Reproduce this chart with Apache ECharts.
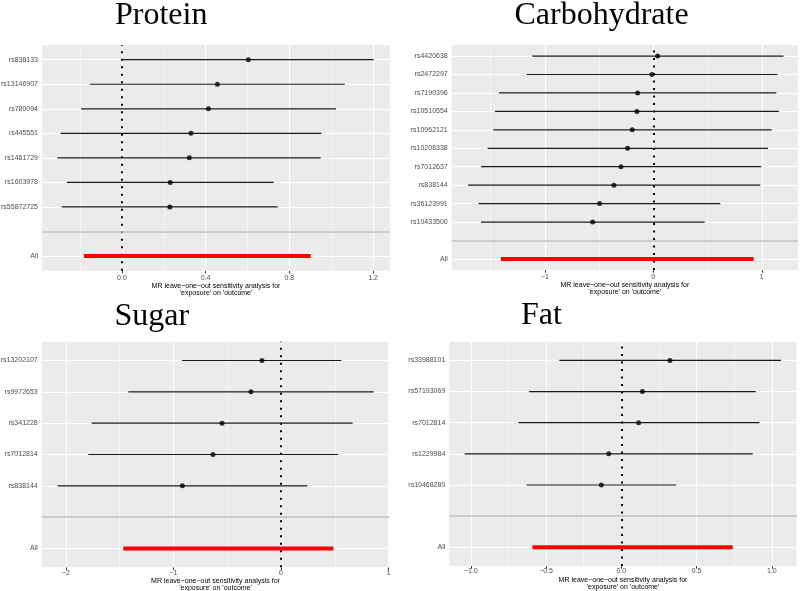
<!DOCTYPE html>
<html><head><meta charset="utf-8">
<script src="https://cdn.jsdelivr.net/npm/echarts@6/dist/echarts.min.js"></script>
<style>html,body{margin:0;padding:0;background:#fff}#c{width:800px;height:591px}</style>
</head><body><div id="c"></div>
<script>
// ---------- DATA ----------
const proteinSnps = ['rs838133','rs13146907','rs780094','rs445551','rs1461729','rs1603978','rs55872725'];
const proteinB  = [0.604, 0.456, 0.413, 0.330, 0.322, 0.231, 0.229];
const proteinLo = [0.004, -0.153, -0.195, -0.293, -0.308, -0.263, -0.288];
const proteinUp = [1.203, 1.065, 1.023, 0.953, 0.950, 0.725, 0.744];
const proteinAll = [-0.182, 0.902];
const proteinTicks = [0, 0.4, 0.8, 1.2];
const proteinTickLabels = ['0.0', '0.4', '0.8', '1.2'];
const proteinMinor = [-0.2, 0.2, 0.6, 1.0];

const carbSnps = ['rs4420638','rs2472297','rs7190396','rs10510554','rs10962121','rs10206338','rs7012637','rs838144','rs36123991','rs10433500'];
const carbB  = [0.040, -0.012, -0.144, -0.151, -0.194, -0.237, -0.298, -0.363, -0.495, -0.559];
const carbLo = [-1.115, -1.167, -1.422, -1.459, -1.475, -1.527, -1.588, -1.708, -1.610, -1.588];
const carbUp = [1.201, 1.146, 1.134, 1.158, 1.091, 1.057, 0.995, 0.986, 0.618, 0.473];
const carbAll = [-1.404, 0.925];
const carbTicks = [-1, 0, 1];
const carbTickLabels = ['\u22121', '0', '1'];
const carbMinor = [-1.5, -0.5, 0.5];

const sugarSnps = ['rs13202107','rs9972653','rs341228','rs7012814','rs838144'];
const sugarB  = [-0.177, -0.279, -0.548, -0.632, -0.917];
const sugarLo = [-0.920, -1.419, -1.760, -1.791, -2.076];
const sugarUp = [0.561, 0.861, 0.666, 0.530, 0.245];
const sugarAll = [-1.466, 0.487];
const sugarTicks = [-2, -1, 0, 1];
const sugarTickLabels = ['\u22122', '\u22121', '0', '1'];
const sugarMinor = [-1.5, -0.5, 0.5];

const fatSnps = ['rs33988101','rs57193069','rs7012814','rs1229984','rs10468280'];
const fatB  = [0.323, 0.140, 0.115, -0.084, -0.133];
const fatLo = [-0.412, -0.613, -0.684, -1.041, -0.629];
const fatUp = [1.061, 0.893, 0.917, 0.873, 0.365];
const fatAll = [-0.591, 0.740];
const fatTicks = [-1, -0.5, 0, 0.5, 1];
const fatTickLabels = ['\u22121.0', '\u22120.5', '0.0', '0.5', '1.0'];
const fatMinor = [-0.75, -0.25, 0.25, 0.75];

const axisTitle = "MR leave\u2212one\u2212out sensitivity analysis for\n'exposure' on 'outcome'";

// ---------- LAYOUT ----------
const panels = [
  {title:'Protein', snps:proteinSnps, b:proteinB, lo:proteinLo, up:proteinUp, all:proteinAll,
   ticks:proteinTicks, tickLabels:proteinTickLabels, minor:proteinMinor,
   grid:{left:42, top:45, width:348, height:225.7}, xMin:-0.382, xMax:1.281,
   titlePos:{left:115, top:-0.5}, labelMargin:3.5, nameGap:11.2},
  {title:'Carbohydrate', snps:carbSnps, b:carbB, lo:carbLo, up:carbUp, all:carbAll,
   ticks:carbTicks, tickLabels:carbTickLabels, minor:carbMinor,
   grid:{left:451.7, top:45, width:346.3, height:225}, xMin:-1.858, xMax:1.334,
   titlePos:{left:514.5, top:-0.5}, labelMargin:3.5, nameGap:11.2},
  {title:'Sugar', snps:sugarSnps, b:sugarB, lo:sugarLo, up:sugarUp, all:sugarAll,
   ticks:sugarTicks, tickLabels:sugarTickLabels, minor:sugarMinor,
   grid:{left:41.7, top:341.7, width:347.6, height:225.6}, xMin:-2.224, xMax:1.0065,
   titlePos:{left:114.5, top:301}, labelMargin:2, nameGap:8.5},
  {title:'Fat', snps:fatSnps, b:fatB, lo:fatLo, up:fatUp, all:fatAll,
   ticks:fatTicks, tickLabels:fatTickLabels, minor:fatMinor,
   grid:{left:449.3, top:341.7, width:347.4, height:224.3}, xMin:-1.143, xMax:1.165,
   titlePos:{left:521, top:300}, labelMargin:2, nameGap:9}
];

const SANS = 'Liberation Sans, Arial, sans-serif';
const option = {animation:false, backgroundColor:'#fff', title:[], grid:[], xAxis:[], yAxis:[], series:[]};

function markSeries(p, z, lines){
  return {type:'line', xAxisIndex:p, yAxisIndex:p, data:[], z:z, silent:true,
    markLine:{z:z, silent:true, symbol:['none','none'], animation:false, label:{show:false},
      emphasis:{disabled:true}, data:lines}};
}

panels.forEach((P, p) => {
  const n = P.snps.length;
  const yVals = [];
  for (let v = 1; v <= n + 2; v++) yVals.push(v);
  const yLabel = v => v === 1 ? 'All' : (v === 2 ? '' : P.snps[n + 2 - v]);
  const yOf = i => n + 2 - i;

  option.title.push({text:P.title, left:P.titlePos.left, top:P.titlePos.top, padding:0,
    textStyle:{fontFamily:'Liberation Serif, Times New Roman, serif', fontSize:32, fontWeight:'normal', color:'#000'}});
  option.grid.push(Object.assign({show:true, backgroundColor:'#EBEBEB', borderWidth:0, containLabel:false, outerBoundsMode:'none'}, P.grid));

  option.xAxis.push({gridIndex:p, type:'value', min:P.xMin, max:P.xMax,
    axisLine:{show:false}, splitLine:{show:false},
    axisTick:{show:true, customValues:P.ticks, length:2.7, lineStyle:{color:'#333', width:1}},
    axisLabel:{customValues:P.ticks, margin:P.labelMargin, fontSize:7, fontFamily:SANS, color:'#4D4D4D',
      formatter: v => { const k = P.ticks.findIndex(t => Math.abs(t - v) < 1e-9); return k >= 0 ? P.tickLabels[k] : ''; }},
    name:axisTitle, nameLocation:'middle', nameGap:P.nameGap,
    nameTextStyle:{fontSize:7, lineHeight:7.4, fontFamily:SANS, color:'#000', align:'center'}});

  option.yAxis.push({gridIndex:p, type:'value', min:0.4, max:n + 2.6,
    axisLine:{show:false}, splitLine:{show:false},
    axisTick:{show:true, customValues:yVals, length:2.7, lineStyle:{color:'#333', width:1}},
    axisLabel:{customValues:yVals, margin:4, fontSize:7, fontFamily:SANS, color:'#4D4D4D',
      formatter: v => yLabel(Math.round(v))}});

  // background grid lines (white)
  const gl = [];
  P.minor.forEach(v => gl.push({xAxis:v, lineStyle:{color:'#FFFFFF', width:0.6, type:'solid'}}));
  P.ticks.forEach(v => gl.push({xAxis:v, lineStyle:{color:'#FFFFFF', width:1.2, type:'solid'}}));
  yVals.forEach(v => gl.push({yAxis:v, lineStyle:{color:'#FFFFFF', width:1.2, type:'solid'}}));
  option.series.push(markSeries(p, 1, gl));

  // dotted vertical line at zero
  option.series.push(markSeries(p, 2, [{xAxis:0, lineStyle:{color:'#000', width:2, type:[2, 5.5]}}]));

  // error bars
  const bars = P.snps.map((s, i) => [P.lo[i], P.up[i], yOf(i)]);
  option.series.push({type:'custom', xAxisIndex:p, yAxisIndex:p, z:3, silent:true,
    data:bars, encode:{x:[0, 1], y:2},
    renderItem:(params, api) => {
      const y = api.value(2);
      const a = api.coord([api.value(0), y]);
      const b = api.coord([api.value(1), y]);
      return {type:'line', shape:{x1:a[0], y1:a[1], x2:b[0], y2:b[1]}, style:{stroke:'#1A1A1A', lineWidth:1.2}};
    }});
  // All (red)
  option.series.push({type:'custom', xAxisIndex:p, yAxisIndex:p, z:3, silent:true,
    data:[[P.all[0], P.all[1], 1]], encode:{x:[0, 1], y:2},
    renderItem:(params, api) => {
      const y = api.value(2);
      const a = api.coord([api.value(0), y]);
      const b = api.coord([api.value(1), y]);
      return {type:'line', shape:{x1:a[0], y1:a[1], x2:b[0], y2:b[1]}, style:{stroke:'#FF0000', lineWidth:4}};
    }});
  // points
  option.series.push({type:'scatter', xAxisIndex:p, yAxisIndex:p, z:4, silent:true,
    symbol:'circle', symbolSize:5, itemStyle:{color:'#000'},
    data:P.b.map((v, i) => [v, yOf(i)])});
  // separator
  option.series.push(markSeries(p, 5, [{yAxis:2, lineStyle:{color:'#BEBEBE', width:1.6, type:'solid'}}]));
});

const chart = echarts.init(document.getElementById('c'), null, {renderer:'canvas'});
chart.setOption(option);
</script>
</body></html>
